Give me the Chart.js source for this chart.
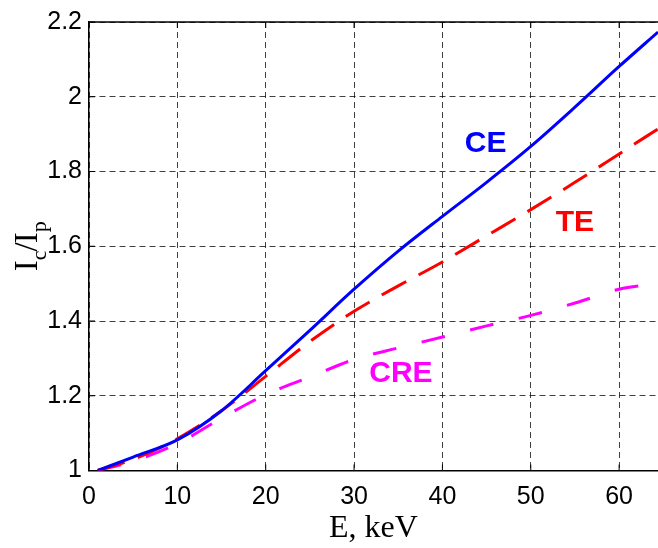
<!DOCTYPE html>
<html>
<head>
<meta charset="utf-8">
<script src="https://cdn.jsdelivr.net/npm/chart.js@4.4.0/dist/chart.umd.min.js"></script>
<style>
html,body{margin:0;padding:0;background:#fff;overflow:hidden;}
#wrap{width:658px;height:548px;}
</style>
</head>
<body>
<div id="wrap"><canvas id="c" width="658" height="548"></canvas></div>
<script>
// Energy values (keV)
const energy = [1, 5, 10, 15, 20, 25, 30, 35, 40, 45, 50, 55, 60, 64.4];
// Series values Ic/Ip
const ceValues  = [1.0, 1.036, 1.082, 1.160, 1.267, 1.375, 1.485, 1.587, 1.680, 1.771, 1.867, 1.972, 2.081, 2.173];
const teValues  = [1.0, 1.030, 1.085, 1.160, 1.252, 1.345, 1.426, 1.494, 1.558, 1.628, 1.698, 1.771, 1.847, 1.914];
const creValues = [1.0, 1.025, 1.072, 1.140, 1.203, 1.250, 1.297, 1.328, 1.357, 1.387, 1.415, 1.448, 1.485, 1.500];
// Axis ranges / ticks
const xTicks = [0, 10, 20, 30, 40, 50, 60];
const yTicks = [1, 1.2, 1.4, 1.6, 1.8, 2, 2.2];
// Curve labels: [text, E, value, colour]
const curveLabels = [
  ['CE', 44.9, 1.874, '#0000ff'],
  ['TE', 55.0, 1.662, '#ff0000'],
  ['CRE', 35.3, 1.260, '#ff00ff']
];

function pts(vals){ return energy.map((e,i)=>({x:e,y:vals[i]})); }

const decor = {
  id:'decor',
  afterDraw(chart){
    const ctx = chart.ctx, a = chart.chartArea;
    const xs = chart.scales.x, ys = chart.scales.y;
    ctx.save();
    // top border
    ctx.strokeStyle = '#000'; ctx.lineWidth = 1.5; ctx.setLineDash([]);
    ctx.beginPath(); ctx.moveTo(a.left, a.top); ctx.lineTo(a.right, a.top); ctx.stroke();
    // inward tick marks
    ctx.lineWidth = 1;
    xTicks.forEach(t=>{ const px = xs.getPixelForValue(t);
      ctx.beginPath(); ctx.moveTo(px, a.bottom); ctx.lineTo(px, a.bottom-6); ctx.stroke();
      ctx.beginPath(); ctx.moveTo(px, a.top); ctx.lineTo(px, a.top+6); ctx.stroke(); });
    yTicks.forEach(t=>{ const py = ys.getPixelForValue(t);
      ctx.beginPath(); ctx.moveTo(a.left, py); ctx.lineTo(a.left+6, py); ctx.stroke(); });
    // curve labels
    ctx.font = 'bold 30px "Liberation Sans", Arial, sans-serif';
    ctx.textAlign = 'center'; ctx.textBaseline = 'middle';
    curveLabels.forEach(l=>{ ctx.fillStyle = l[3];
      ctx.fillText(l[0], xs.getPixelForValue(l[1]), ys.getPixelForValue(l[2])); });
    // y axis title  I_c/I_p  (rotated)
    const cy = (a.top + a.bottom)/2;
    ctx.translate(37, cy);
    ctx.rotate(-Math.PI/2);
    ctx.fillStyle = '#000';
    ctx.textAlign = 'left'; ctx.textBaseline = 'alphabetic';
    const big = '33px "Liberation Serif", "Times New Roman", serif';
    const small = '22px "Liberation Serif", "Times New Roman", serif';
    const parts = [['I',big,0,0],['c',small,9,-1],['/',big,0,-1],['I',big,0,0],['p',small,9,0]];
    let w = 0;
    parts.forEach(p=>{ ctx.font = p[1]; w += ctx.measureText(p[0]).width + p[3]; });
    let x = -w/2;
    parts.forEach(p=>{ ctx.font = p[1]; ctx.fillText(p[0], x, p[2]); x += ctx.measureText(p[0]).width + p[3]; });
    ctx.restore();
  }
};

new Chart(document.getElementById('c'), {
  type:'line',
  data:{ datasets:[
    {label:'CE', data:pts(ceValues), borderColor:'#0000ff', borderWidth:3, pointRadius:0, cubicInterpolationMode:'monotone', fill:false},
    {label:'TE', data:pts(teValues), borderColor:'#ff0000', borderWidth:3, borderDash:[28,14], pointRadius:0, cubicInterpolationMode:'monotone', fill:false},
    {label:'CRE', data:pts(creValues), borderColor:'#ff00ff', borderWidth:3, borderDash:[24,26], pointRadius:0, cubicInterpolationMode:'monotone', fill:false}
  ]},
  options:{
    responsive:false, animation:false, devicePixelRatio:1,
    layout:{padding:{top:16,right:0,left:0,bottom:0}},
    plugins:{legend:{display:false}, tooltip:{enabled:false}},
    scales:{
      x:{type:'linear', min:0, max:64.4,
        afterFit(s){ s.height = 77.5; },
        afterBuildTicks(s){ s.ticks = xTicks.map(v=>({value:v})); },
        ticks:{ color:'#000', padding:12, maxRotation:0, font:{family:'"Liberation Sans", Arial, sans-serif', size:25} },
        grid:{ color:'rgba(0,0,0,0.75)', lineWidth:1, drawTicks:false },
        border:{ color:'#000', width:1.5, dash:[6,4] },
        title:{display:true, text:'E, keV', color:'#000', padding:{top:2,bottom:0}, font:{family:'"Liberation Serif", "Times New Roman", serif', size:32}}
      },
      y:{type:'linear', min:1, max:2.2,
        afterFit(s){ s.width = 89; },
        afterBuildTicks(s){ s.ticks = yTicks.map(v=>({value:v})); },
        ticks:{ color:'#000', padding:7, font:{family:'"Liberation Sans", Arial, sans-serif', size:25},
          callback:(v)=>String(Math.round(v*10)/10) },
        grid:{ color:'rgba(0,0,0,0.75)', lineWidth:1, drawTicks:false },
        border:{ color:'#000', width:1.5, dash:[6,4] }
      }
    }
  },
  plugins:[decor]
});
</script>
</body>
</html>
